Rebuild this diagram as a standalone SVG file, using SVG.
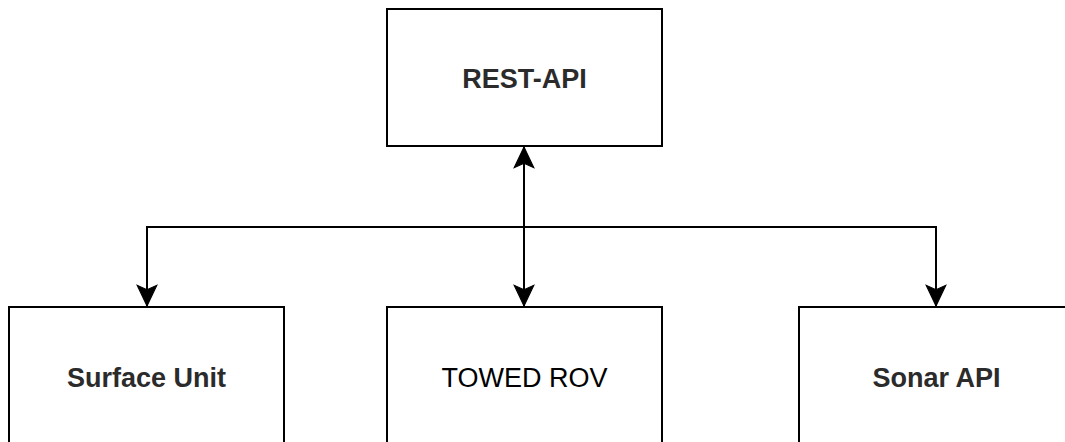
<svg xmlns="http://www.w3.org/2000/svg" width="1065" height="442" viewBox="0 0 1065 442">
  <style>
    .box { fill: #ffffff; stroke: #000000; stroke-width: 2; }
    .lbl { font-family: "Liberation Sans", Arial, Helvetica, sans-serif; font-size: 27px; fill: #000000; text-anchor: middle; }
    .b { font-weight: bold; fill: #2b2b2b; }
    .edge { fill: none; stroke: #000000; stroke-width: 2; }
  </style>
  <defs>
    <marker id="arrow" markerUnits="userSpaceOnUse" markerWidth="24" markerHeight="24" viewBox="-20 -11 22 22" refX="0" refY="0" orient="auto-start-reverse">
      <path d="M0,0 L-19,-9 L-15,0 L-19,9 Z" fill="#000000" stroke="#000000" stroke-width="1"/>
    </marker>
  </defs>
  <rect width="1065" height="442" fill="#ffffff"/>
  <g id="connectors">
    <path class="edge" d="M147,306 V227 H936 V306" marker-start="url(#arrow)" marker-end="url(#arrow)"/>
    <path class="edge" d="M524,147 V306" marker-start="url(#arrow)" marker-end="url(#arrow)"/>
  </g>
  <g id="rest-api">
    <rect class="box" x="387" y="9" width="275" height="137"/>
    <text class="lbl b" x="524.5" y="88">REST-API</text>
  </g>
  <g id="surface-unit">
    <rect class="box" x="9" y="307" width="275" height="137"/>
    <text class="lbl b" x="146.5" y="387">Surface Unit</text>
  </g>
  <g id="towed-rov">
    <rect class="box" x="387" y="307" width="275" height="137"/>
    <text class="lbl" x="524.5" y="387">TOWED ROV</text>
  </g>
  <g id="sonar-api">
    <rect class="box" x="799" y="307" width="275" height="137"/>
    <text class="lbl b" x="936.5" y="387">Sonar API</text>
  </g>
</svg>
